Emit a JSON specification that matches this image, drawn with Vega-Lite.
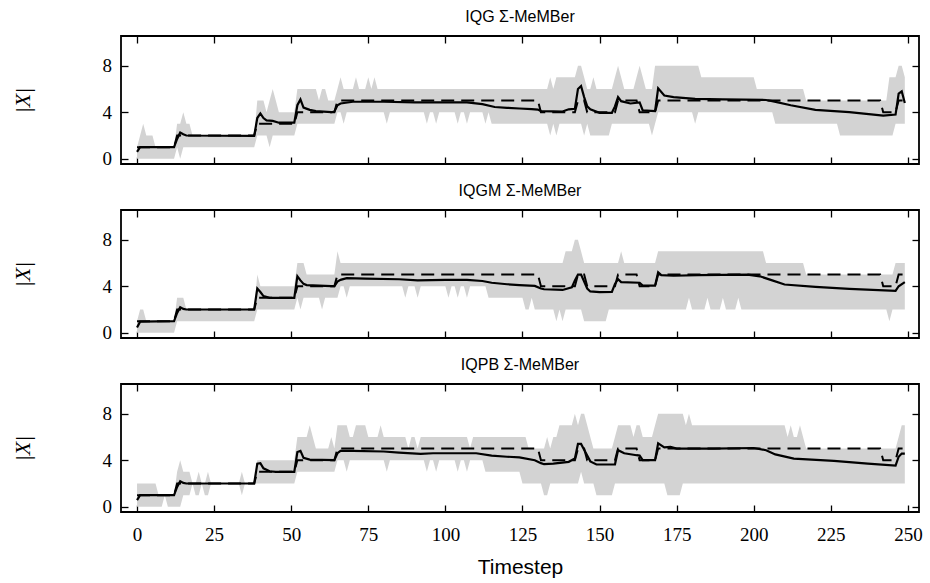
{
  "$schema": "https://vega.github.io/schema/vega-lite/v6.json",
  "padding": {"left": 10, "top": 8, "right": 5, "bottom": 5},
  "background": "white",
  "spacing": 12,
  "config": {
    "view": {"stroke": "black", "strokeWidth": 1.8},
    "axis": {"tickSize": -7, "tickColor": "black", "tickWidth": 1.3, "domain": false, "grid": false, "labelFont": "Liberation Serif", "labelFontSize": 19, "labelColor": "black", "labelFlush": false, "zindex": 1},
    "title": {"font": "Liberation Sans", "fontSize": 16, "fontWeight": "normal", "color": "black", "offset": 10, "anchor": "middle"}
  },
  "datasets": {
    "truth": [
      {"t":0,"n":1},{"t":12,"n":1},{"t":13,"n":2},{"t":38,"n":2},{"t":39,"n":3},{"t":51,"n":3},{"t":52,"n":4},{"t":64,"n":4},{"t":65,"n":5},{"t":130,"n":5},{"t":131,"n":4},{"t":142,"n":4},{"t":143,"n":5},{"t":145,"n":5},{"t":146,"n":4},{"t":155,"n":4},{"t":156,"n":5},{"t":162,"n":5},{"t":163,"n":4},{"t":168,"n":4},{"t":169,"n":5},{"t":241,"n":5},{"t":242,"n":4},{"t":246,"n":4},{"t":247,"n":5},{"t":249,"n":5}
    ],
    "est": [
      {"p":1,"t":0,"n":0.6},{"p":1,"t":1,"n":1.0},{"p":1,"t":12,"n":1.0},{"p":1,"t":13,"n":1.7},{"p":1,"t":14,"n":2.25},{"p":1,"t":15,"n":2.1},{"p":1,"t":16,"n":2.0},{"p":1,"t":38,"n":1.97},{"p":1,"t":39,"n":3.5},{"p":1,"t":40,"n":3.9},{"p":1,"t":41,"n":3.5},{"p":1,"t":42,"n":3.3},{"p":1,"t":44,"n":3.25},{"p":1,"t":46,"n":3.1},{"p":1,"t":51,"n":3.1},{"p":1,"t":52,"n":4.6},{"p":1,"t":53,"n":5.1},{"p":1,"t":54,"n":4.4},{"p":1,"t":56,"n":4.2},{"p":1,"t":58,"n":4.1},{"p":1,"t":63,"n":4.0},{"p":1,"t":64,"n":4.05},{"p":1,"t":65,"n":4.6},{"p":1,"t":66,"n":4.75},{"p":1,"t":70,"n":4.9},{"p":1,"t":80,"n":4.9},{"p":1,"t":90,"n":4.85},{"p":1,"t":100,"n":4.85},{"p":1,"t":107,"n":4.85},{"p":1,"t":112,"n":4.7},{"p":1,"t":116,"n":4.45},{"p":1,"t":120,"n":4.38},{"p":1,"t":124,"n":4.32},{"p":1,"t":128,"n":4.26},{"p":1,"t":130,"n":4.23},{"p":1,"t":131,"n":4.1},{"p":1,"t":135,"n":4.08},{"p":1,"t":138,"n":4.06},{"p":1,"t":140,"n":4.25},{"p":1,"t":142,"n":4.3},{"p":1,"t":143,"n":6.0},{"p":1,"t":144,"n":6.25},{"p":1,"t":145,"n":5.3},{"p":1,"t":146,"n":4.5},{"p":1,"t":147,"n":4.25},{"p":1,"t":150,"n":3.95},{"p":1,"t":154,"n":3.95},{"p":1,"t":155,"n":4.5},{"p":1,"t":156,"n":5.3},{"p":1,"t":157,"n":4.95},{"p":1,"t":160,"n":4.75},{"p":1,"t":163,"n":4.85},{"p":1,"t":164,"n":4.15},{"p":1,"t":168,"n":4.1},{"p":1,"t":169,"n":6.05},{"p":1,"t":171,"n":5.43},{"p":1,"t":174,"n":5.3},{"p":1,"t":181,"n":5.14},{"p":1,"t":190,"n":5.1},{"p":1,"t":204,"n":5.05},{"p":1,"t":206,"n":4.95},{"p":1,"t":212,"n":4.6},{"p":1,"t":220,"n":4.2},{"p":1,"t":231,"n":4.0},{"p":1,"t":242,"n":3.7},{"p":1,"t":246,"n":3.8},{"p":1,"t":247,"n":5.6},{"p":1,"t":248,"n":5.8},{"p":1,"t":249,"n":4.8},
      {"p":2,"t":0,"n":0.45},{"p":2,"t":1,"n":0.95},{"p":2,"t":12,"n":1.0},{"p":2,"t":13,"n":1.7},{"p":2,"t":14,"n":2.2},{"p":2,"t":15,"n":2.05},{"p":2,"t":16,"n":2.0},{"p":2,"t":38,"n":2.0},{"p":2,"t":39,"n":3.8},{"p":2,"t":40,"n":3.5},{"p":2,"t":41,"n":3.15},{"p":2,"t":43,"n":3.0},{"p":2,"t":51,"n":3.0},{"p":2,"t":52,"n":4.85},{"p":2,"t":53,"n":4.5},{"p":2,"t":54,"n":4.2},{"p":2,"t":55,"n":4.1},{"p":2,"t":63,"n":4.0},{"p":2,"t":64,"n":4.0},{"p":2,"t":65,"n":4.4},{"p":2,"t":66,"n":4.55},{"p":2,"t":68,"n":4.7},{"p":2,"t":74,"n":4.65},{"p":2,"t":85,"n":4.6},{"p":2,"t":91,"n":4.5},{"p":2,"t":100,"n":4.55},{"p":2,"t":107,"n":4.55},{"p":2,"t":112,"n":4.45},{"p":2,"t":115,"n":4.3},{"p":2,"t":120,"n":4.17},{"p":2,"t":124,"n":4.1},{"p":2,"t":129,"n":4.03},{"p":2,"t":131,"n":3.8},{"p":2,"t":132,"n":3.74},{"p":2,"t":138,"n":3.68},{"p":2,"t":141,"n":3.9},{"p":2,"t":142,"n":4.5},{"p":2,"t":143,"n":5.0},{"p":2,"t":144,"n":5.0},{"p":2,"t":145,"n":4.4},{"p":2,"t":146,"n":3.8},{"p":2,"t":147,"n":3.55},{"p":2,"t":150,"n":3.5},{"p":2,"t":154,"n":3.52},{"p":2,"t":155,"n":4.2},{"p":2,"t":156,"n":4.6},{"p":2,"t":157,"n":4.35},{"p":2,"t":163,"n":4.3},{"p":2,"t":164,"n":4.05},{"p":2,"t":168,"n":4.05},{"p":2,"t":169,"n":5.2},{"p":2,"t":170,"n":4.95},{"p":2,"t":174,"n":4.9},{"p":2,"t":182,"n":4.95},{"p":2,"t":198,"n":5.0},{"p":2,"t":202,"n":4.85},{"p":2,"t":206,"n":4.5},{"p":2,"t":210,"n":4.15},{"p":2,"t":220,"n":3.95},{"p":2,"t":231,"n":3.77},{"p":2,"t":246,"n":3.6},{"p":2,"t":247,"n":4.0},{"p":2,"t":249,"n":4.35},
      {"p":3,"t":0,"n":0.57},{"p":3,"t":1,"n":1.0},{"p":3,"t":12,"n":1.0},{"p":3,"t":13,"n":1.7},{"p":3,"t":14,"n":2.2},{"p":3,"t":15,"n":2.05},{"p":3,"t":16,"n":2.0},{"p":3,"t":38,"n":2.0},{"p":3,"t":39,"n":3.7},{"p":3,"t":40,"n":3.75},{"p":3,"t":41,"n":3.3},{"p":3,"t":43,"n":3.05},{"p":3,"t":45,"n":3.0},{"p":3,"t":51,"n":3.0},{"p":3,"t":52,"n":4.7},{"p":3,"t":53,"n":4.8},{"p":3,"t":54,"n":4.2},{"p":3,"t":56,"n":4.05},{"p":3,"t":64,"n":4.0},{"p":3,"t":65,"n":4.6},{"p":3,"t":66,"n":4.8},{"p":3,"t":70,"n":4.8},{"p":3,"t":80,"n":4.75},{"p":3,"t":85,"n":4.65},{"p":3,"t":92,"n":4.55},{"p":3,"t":96,"n":4.6},{"p":3,"t":110,"n":4.6},{"p":3,"t":115,"n":4.4},{"p":3,"t":120,"n":4.3},{"p":3,"t":124,"n":4.25},{"p":3,"t":129,"n":4.0},{"p":3,"t":131,"n":3.75},{"p":3,"t":132,"n":3.66},{"p":3,"t":135,"n":3.7},{"p":3,"t":140,"n":3.86},{"p":3,"t":142,"n":4.14},{"p":3,"t":143,"n":5.4},{"p":3,"t":144,"n":5.4},{"p":3,"t":145,"n":4.9},{"p":3,"t":146,"n":4.4},{"p":3,"t":147,"n":3.9},{"p":3,"t":149,"n":3.63},{"p":3,"t":155,"n":3.63},{"p":3,"t":156,"n":4.86},{"p":3,"t":158,"n":4.6},{"p":3,"t":162,"n":4.43},{"p":3,"t":163,"n":4.4},{"p":3,"t":164,"n":4.0},{"p":3,"t":168,"n":4.0},{"p":3,"t":169,"n":5.45},{"p":3,"t":171,"n":5.1},{"p":3,"t":173,"n":5.14},{"p":3,"t":175,"n":5.0},{"p":3,"t":187,"n":5.0},{"p":3,"t":200,"n":5.05},{"p":3,"t":204,"n":4.86},{"p":3,"t":207,"n":4.5},{"p":3,"t":213,"n":4.14},{"p":3,"t":226,"n":3.94},{"p":3,"t":237,"n":3.7},{"p":3,"t":246,"n":3.54},{"p":3,"t":247,"n":4.3},{"p":3,"t":248,"n":4.57},{"p":3,"t":249,"n":4.57}
    ],
    "band": [
      {"p":1,"t":0,"hi":1,"lo":0},{"p":1,"t":1,"hi":2,"lo":0},{"p":1,"t":2,"hi":3,"lo":0},{"p":1,"t":3,"hi":2,"lo":0},{"p":1,"t":5,"hi":2,"lo":0},{"p":1,"t":6,"hi":1,"lo":0},{"p":1,"t":12,"hi":1,"lo":0},{"p":1,"t":13,"hi":3,"lo":1},{"p":1,"t":14,"hi":3,"lo":0},{"p":1,"t":15,"hi":4,"lo":1},{"p":1,"t":16,"hi":3,"lo":1},{"p":1,"t":17,"hi":3,"lo":1},{"p":1,"t":18,"hi":2,"lo":1},{"p":1,"t":38,"hi":2,"lo":1},{"p":1,"t":39,"hi":5,"lo":2},{"p":1,"t":41,"hi":5,"lo":2},{"p":1,"t":42,"hi":4,"lo":2},{"p":1,"t":43,"hi":5,"lo":1},{"p":1,"t":44,"hi":6,"lo":2},{"p":1,"t":45,"hi":5,"lo":2},{"p":1,"t":46,"hi":4,"lo":2},{"p":1,"t":51,"hi":4,"lo":2},{"p":1,"t":52,"hi":6,"lo":3},{"p":1,"t":58,"hi":6,"lo":3},{"p":1,"t":59,"hi":5,"lo":3},{"p":1,"t":60,"hi":6,"lo":3},{"p":1,"t":61,"hi":6,"lo":3},{"p":1,"t":62,"hi":5,"lo":3},{"p":1,"t":64,"hi":5,"lo":3},{"p":1,"t":65,"hi":6,"lo":4},{"p":1,"t":66,"hi":7,"lo":4},{"p":1,"t":67,"hi":6,"lo":3},{"p":1,"t":68,"hi":6,"lo":4},{"p":1,"t":70,"hi":6,"lo":4},{"p":1,"t":71,"hi":7,"lo":4},{"p":1,"t":72,"hi":6,"lo":4},{"p":1,"t":74,"hi":6,"lo":4},{"p":1,"t":75,"hi":7,"lo":4},{"p":1,"t":76,"hi":6,"lo":4},{"p":1,"t":77,"hi":7,"lo":4},{"p":1,"t":78,"hi":6,"lo":4},{"p":1,"t":80,"hi":6,"lo":4},{"p":1,"t":81,"hi":6,"lo":3},{"p":1,"t":82,"hi":6,"lo":4},{"p":1,"t":93,"hi":6,"lo":4},{"p":1,"t":94,"hi":6,"lo":3},{"p":1,"t":95,"hi":6,"lo":4},{"p":1,"t":96,"hi":6,"lo":4},{"p":1,"t":97,"hi":6,"lo":3},{"p":1,"t":98,"hi":6,"lo":4},{"p":1,"t":103,"hi":6,"lo":4},{"p":1,"t":104,"hi":6,"lo":3},{"p":1,"t":105,"hi":6,"lo":4},{"p":1,"t":106,"hi":6,"lo":4},{"p":1,"t":107,"hi":6,"lo":3},{"p":1,"t":108,"hi":6,"lo":4},{"p":1,"t":112,"hi":6,"lo":4},{"p":1,"t":113,"hi":6,"lo":3},{"p":1,"t":114,"hi":6,"lo":4},{"p":1,"t":115,"hi":6,"lo":3},{"p":1,"t":133,"hi":6,"lo":3},{"p":1,"t":134,"hi":7,"lo":2},{"p":1,"t":135,"hi":6,"lo":3},{"p":1,"t":136,"hi":7,"lo":2},{"p":1,"t":137,"hi":7,"lo":3},{"p":1,"t":142,"hi":7,"lo":3},{"p":1,"t":143,"hi":8,"lo":3},{"p":1,"t":144,"hi":8,"lo":3},{"p":1,"t":145,"hi":7,"lo":2},{"p":1,"t":146,"hi":6,"lo":3},{"p":1,"t":147,"hi":6,"lo":2},{"p":1,"t":148,"hi":7,"lo":2},{"p":1,"t":149,"hi":6,"lo":2},{"p":1,"t":153,"hi":6,"lo":2},{"p":1,"t":154,"hi":6,"lo":3},{"p":1,"t":155,"hi":7,"lo":3},{"p":1,"t":156,"hi":8,"lo":3},{"p":1,"t":157,"hi":7,"lo":3},{"p":1,"t":158,"hi":6,"lo":3},{"p":1,"t":161,"hi":6,"lo":3},{"p":1,"t":162,"hi":7,"lo":3},{"p":1,"t":163,"hi":8,"lo":3},{"p":1,"t":164,"hi":7,"lo":3},{"p":1,"t":165,"hi":6,"lo":3},{"p":1,"t":166,"hi":6,"lo":3},{"p":1,"t":167,"hi":6,"lo":2},{"p":1,"t":168,"hi":8,"lo":3},{"p":1,"t":169,"hi":8,"lo":4},{"p":1,"t":180,"hi":8,"lo":4},{"p":1,"t":181,"hi":8,"lo":3},{"p":1,"t":182,"hi":8,"lo":4},{"p":1,"t":183,"hi":7,"lo":4},{"p":1,"t":200,"hi":7,"lo":4},{"p":1,"t":201,"hi":6,"lo":4},{"p":1,"t":206,"hi":6,"lo":4},{"p":1,"t":207,"hi":6,"lo":3},{"p":1,"t":216,"hi":6,"lo":3},{"p":1,"t":217,"hi":5,"lo":3},{"p":1,"t":227,"hi":5,"lo":3},{"p":1,"t":228,"hi":5,"lo":2},{"p":1,"t":243,"hi":5,"lo":2},{"p":1,"t":244,"hi":7,"lo":2},{"p":1,"t":245,"hi":7,"lo":2},{"p":1,"t":246,"hi":7,"lo":3},{"p":1,"t":247,"hi":8,"lo":3},{"p":1,"t":248,"hi":8,"lo":3},{"p":1,"t":249,"hi":7,"lo":3},
      {"p":2,"t":0,"hi":1,"lo":0},{"p":2,"t":1,"hi":2,"lo":0},{"p":2,"t":2,"hi":2,"lo":0},{"p":2,"t":3,"hi":1,"lo":0},{"p":2,"t":12,"hi":1,"lo":0},{"p":2,"t":13,"hi":3,"lo":1},{"p":2,"t":15,"hi":3,"lo":1},{"p":2,"t":16,"hi":2,"lo":1},{"p":2,"t":38,"hi":2,"lo":1},{"p":2,"t":39,"hi":5,"lo":2},{"p":2,"t":40,"hi":4,"lo":2},{"p":2,"t":51,"hi":4,"lo":2},{"p":2,"t":52,"hi":6,"lo":3},{"p":2,"t":53,"hi":6,"lo":2},{"p":2,"t":54,"hi":6,"lo":3},{"p":2,"t":55,"hi":5,"lo":3},{"p":2,"t":59,"hi":5,"lo":3},{"p":2,"t":60,"hi":5,"lo":2},{"p":2,"t":61,"hi":5,"lo":3},{"p":2,"t":64,"hi":5,"lo":3},{"p":2,"t":65,"hi":7,"lo":3},{"p":2,"t":66,"hi":6,"lo":4},{"p":2,"t":67,"hi":6,"lo":4},{"p":2,"t":68,"hi":6,"lo":3},{"p":2,"t":69,"hi":6,"lo":4},{"p":2,"t":86,"hi":6,"lo":4},{"p":2,"t":87,"hi":6,"lo":3},{"p":2,"t":88,"hi":6,"lo":4},{"p":2,"t":90,"hi":6,"lo":4},{"p":2,"t":91,"hi":6,"lo":3},{"p":2,"t":92,"hi":6,"lo":4},{"p":2,"t":100,"hi":6,"lo":4},{"p":2,"t":101,"hi":6,"lo":3},{"p":2,"t":102,"hi":6,"lo":4},{"p":2,"t":103,"hi":6,"lo":4},{"p":2,"t":104,"hi":6,"lo":3},{"p":2,"t":105,"hi":6,"lo":4},{"p":2,"t":106,"hi":6,"lo":4},{"p":2,"t":107,"hi":6,"lo":3},{"p":2,"t":108,"hi":6,"lo":4},{"p":2,"t":113,"hi":6,"lo":4},{"p":2,"t":114,"hi":6,"lo":3},{"p":2,"t":125,"hi":6,"lo":3},{"p":2,"t":126,"hi":6,"lo":2},{"p":2,"t":127,"hi":6,"lo":2},{"p":2,"t":128,"hi":6,"lo":3},{"p":2,"t":129,"hi":6,"lo":2},{"p":2,"t":135,"hi":6,"lo":2},{"p":2,"t":136,"hi":6,"lo":1},{"p":2,"t":137,"hi":6,"lo":2},{"p":2,"t":138,"hi":6,"lo":1},{"p":2,"t":139,"hi":7,"lo":2},{"p":2,"t":141,"hi":7,"lo":2},{"p":2,"t":142,"hi":8,"lo":2},{"p":2,"t":143,"hi":8,"lo":2},{"p":2,"t":144,"hi":7,"lo":2},{"p":2,"t":145,"hi":6,"lo":1},{"p":2,"t":152,"hi":6,"lo":1},{"p":2,"t":153,"hi":6,"lo":2},{"p":2,"t":156,"hi":6,"lo":2},{"p":2,"t":157,"hi":7,"lo":2},{"p":2,"t":158,"hi":6,"lo":2},{"p":2,"t":168,"hi":6,"lo":2},{"p":2,"t":169,"hi":7,"lo":2},{"p":2,"t":178,"hi":7,"lo":2},{"p":2,"t":179,"hi":7,"lo":3},{"p":2,"t":180,"hi":7,"lo":2},{"p":2,"t":184,"hi":7,"lo":2},{"p":2,"t":185,"hi":7,"lo":3},{"p":2,"t":186,"hi":7,"lo":2},{"p":2,"t":189,"hi":7,"lo":2},{"p":2,"t":190,"hi":7,"lo":3},{"p":2,"t":191,"hi":7,"lo":2},{"p":2,"t":194,"hi":7,"lo":2},{"p":2,"t":195,"hi":7,"lo":3},{"p":2,"t":196,"hi":7,"lo":2},{"p":2,"t":203,"hi":7,"lo":2},{"p":2,"t":204,"hi":6,"lo":2},{"p":2,"t":216,"hi":6,"lo":2},{"p":2,"t":217,"hi":5,"lo":2},{"p":2,"t":243,"hi":5,"lo":2},{"p":2,"t":244,"hi":5,"lo":1},{"p":2,"t":245,"hi":5,"lo":2},{"p":2,"t":246,"hi":6,"lo":2},{"p":2,"t":249,"hi":6,"lo":2},
      {"p":3,"t":0,"hi":2,"lo":0},{"p":3,"t":6,"hi":2,"lo":0},{"p":3,"t":7,"hi":1,"lo":0},{"p":3,"t":8,"hi":1,"lo":0},{"p":3,"t":9,"hi":1,"lo":1},{"p":3,"t":10,"hi":1,"lo":0},{"p":3,"t":12,"hi":1,"lo":0},{"p":3,"t":13,"hi":3,"lo":0},{"p":3,"t":14,"hi":4,"lo":0},{"p":3,"t":15,"hi":3,"lo":1},{"p":3,"t":17,"hi":3,"lo":1},{"p":3,"t":18,"hi":2,"lo":2},{"p":3,"t":19,"hi":2,"lo":1},{"p":3,"t":20,"hi":3,"lo":1},{"p":3,"t":21,"hi":2,"lo":2},{"p":3,"t":22,"hi":2,"lo":1},{"p":3,"t":23,"hi":3,"lo":1},{"p":3,"t":24,"hi":2,"lo":2},{"p":3,"t":33,"hi":2,"lo":2},{"p":3,"t":34,"hi":3,"lo":1},{"p":3,"t":35,"hi":2,"lo":2},{"p":3,"t":38,"hi":2,"lo":2},{"p":3,"t":39,"hi":4,"lo":2},{"p":3,"t":51,"hi":4,"lo":2},{"p":3,"t":52,"hi":6,"lo":3},{"p":3,"t":55,"hi":6,"lo":3},{"p":3,"t":56,"hi":7,"lo":3},{"p":3,"t":57,"hi":6,"lo":3},{"p":3,"t":58,"hi":5,"lo":3},{"p":3,"t":62,"hi":5,"lo":3},{"p":3,"t":63,"hi":6,"lo":3},{"p":3,"t":64,"hi":5,"lo":3},{"p":3,"t":65,"hi":7,"lo":4},{"p":3,"t":67,"hi":7,"lo":4},{"p":3,"t":68,"hi":7,"lo":3},{"p":3,"t":69,"hi":6,"lo":4},{"p":3,"t":70,"hi":6,"lo":4},{"p":3,"t":71,"hi":7,"lo":4},{"p":3,"t":74,"hi":7,"lo":4},{"p":3,"t":75,"hi":6,"lo":4},{"p":3,"t":78,"hi":6,"lo":4},{"p":3,"t":79,"hi":7,"lo":4},{"p":3,"t":80,"hi":6,"lo":4},{"p":3,"t":81,"hi":6,"lo":3},{"p":3,"t":82,"hi":6,"lo":4},{"p":3,"t":87,"hi":6,"lo":4},{"p":3,"t":88,"hi":5,"lo":4},{"p":3,"t":89,"hi":6,"lo":4},{"p":3,"t":90,"hi":6,"lo":4},{"p":3,"t":91,"hi":5,"lo":4},{"p":3,"t":92,"hi":6,"lo":4},{"p":3,"t":93,"hi":6,"lo":4},{"p":3,"t":94,"hi":6,"lo":3},{"p":3,"t":95,"hi":6,"lo":4},{"p":3,"t":96,"hi":6,"lo":4},{"p":3,"t":97,"hi":6,"lo":3},{"p":3,"t":98,"hi":6,"lo":4},{"p":3,"t":103,"hi":6,"lo":4},{"p":3,"t":104,"hi":6,"lo":3},{"p":3,"t":105,"hi":6,"lo":4},{"p":3,"t":106,"hi":6,"lo":4},{"p":3,"t":107,"hi":6,"lo":3},{"p":3,"t":108,"hi":5,"lo":4},{"p":3,"t":109,"hi":6,"lo":4},{"p":3,"t":112,"hi":6,"lo":4},{"p":3,"t":113,"hi":6,"lo":3},{"p":3,"t":124,"hi":6,"lo":3},{"p":3,"t":125,"hi":6,"lo":2},{"p":3,"t":126,"hi":6,"lo":2},{"p":3,"t":127,"hi":5,"lo":2},{"p":3,"t":131,"hi":5,"lo":2},{"p":3,"t":132,"hi":5,"lo":1},{"p":3,"t":133,"hi":6,"lo":1},{"p":3,"t":134,"hi":5,"lo":2},{"p":3,"t":135,"hi":6,"lo":2},{"p":3,"t":136,"hi":6,"lo":2},{"p":3,"t":137,"hi":7,"lo":2},{"p":3,"t":141,"hi":7,"lo":2},{"p":3,"t":142,"hi":8,"lo":2},{"p":3,"t":143,"hi":7,"lo":2},{"p":3,"t":144,"hi":8,"lo":3},{"p":3,"t":145,"hi":8,"lo":2},{"p":3,"t":146,"hi":7,"lo":2},{"p":3,"t":147,"hi":6,"lo":2},{"p":3,"t":148,"hi":5,"lo":2},{"p":3,"t":149,"hi":5,"lo":1},{"p":3,"t":154,"hi":5,"lo":1},{"p":3,"t":155,"hi":6,"lo":2},{"p":3,"t":156,"hi":7,"lo":2},{"p":3,"t":160,"hi":7,"lo":2},{"p":3,"t":161,"hi":6,"lo":2},{"p":3,"t":162,"hi":7,"lo":2},{"p":3,"t":163,"hi":7,"lo":2},{"p":3,"t":164,"hi":6,"lo":2},{"p":3,"t":167,"hi":6,"lo":2},{"p":3,"t":168,"hi":7,"lo":2},{"p":3,"t":169,"hi":8,"lo":2},{"p":3,"t":171,"hi":8,"lo":2},{"p":3,"t":172,"hi":8,"lo":1},{"p":3,"t":176,"hi":8,"lo":1},{"p":3,"t":177,"hi":8,"lo":2},{"p":3,"t":178,"hi":7,"lo":2},{"p":3,"t":179,"hi":8,"lo":2},{"p":3,"t":180,"hi":7,"lo":2},{"p":3,"t":210,"hi":7,"lo":2},{"p":3,"t":211,"hi":6,"lo":2},{"p":3,"t":212,"hi":7,"lo":2},{"p":3,"t":213,"hi":6,"lo":2},{"p":3,"t":214,"hi":6,"lo":2},{"p":3,"t":215,"hi":7,"lo":2},{"p":3,"t":216,"hi":6,"lo":2},{"p":3,"t":217,"hi":5,"lo":2},{"p":3,"t":246,"hi":5,"lo":2},{"p":3,"t":247,"hi":6,"lo":2},{"p":3,"t":248,"hi":7,"lo":2},{"p":3,"t":249,"hi":7,"lo":2}
    ]
  },
  "vconcat": [
    {
      "title": "IQG Σ-MeMBer",
      "width": 798, "height": 128,
      "layer": [
        {"data": {"name": "band"}, "transform": [{"filter": "datum.p == 1"}],
         "mark": {"type": "area", "color": "#d3d3d3", "opacity": 1},
         "encoding": {
           "x": {"field": "t", "type": "quantitative", "scale": {"domain": [-5.2, 253.6], "nice": false, "zero": false}, "axis": {"orient": "bottom", "values": [0,25,50,75,100,125,150,175,200,225,250], "labels": false, "title": null}},
           "y": {"field": "hi", "type": "quantitative", "scale": {"domain": [-0.45, 10.55], "nice": false, "zero": false}, "axis": {"orient": "left", "values": [0,4,8], "labelPadding": 16.5, "title": "|X|", "titleFont": "Liberation Serif", "titleFontStyle": "italic", "titleFontWeight": "normal", "titleFontSize": 22, "titleColor": "black", "titlePadding": 68}},
           "y2": {"field": "lo"}
         }},
        {"data": {"name": "truth"},
         "mark": {"type": "line", "color": "black", "strokeWidth": 2, "strokeDash": [13, 7]},
         "encoding": {
           "x": {"field": "t", "type": "quantitative", "scale": {"domain": [-5.2, 253.6], "nice": false, "zero": false}, "axis": {"orient": "top", "values": [0,25,50,75,100,125,150,175,200,225,250], "labels": false, "title": null}},
           "y": {"field": "n", "type": "quantitative", "scale": {"domain": [-0.45, 10.55], "nice": false, "zero": false}, "axis": {"orient": "right", "values": [0,4,8], "labels": false, "title": null}}
         }},
        {"data": {"name": "est"}, "transform": [{"filter": "datum.p == 1"}],
         "mark": {"type": "line", "color": "black", "strokeWidth": 2.2},
         "encoding": {
           "x": {"field": "t", "type": "quantitative", "scale": {"domain": [-5.2, 253.6], "nice": false, "zero": false}, "axis": null},
           "y": {"field": "n", "type": "quantitative", "scale": {"domain": [-0.45, 10.55], "nice": false, "zero": false}, "axis": null}
         }}
      ],
      "resolve": {"scale": {"x": "independent", "y": "independent"}, "axis": {"x": "independent", "y": "independent"}}
    },
    {
      "title": "IQGM Σ-MeMBer",
      "width": 798, "height": 128,
      "layer": [
        {"data": {"name": "band"}, "transform": [{"filter": "datum.p == 2"}],
         "mark": {"type": "area", "color": "#d3d3d3", "opacity": 1},
         "encoding": {
           "x": {"field": "t", "type": "quantitative", "scale": {"domain": [-5.2, 253.6], "nice": false, "zero": false}, "axis": {"orient": "bottom", "values": [0,25,50,75,100,125,150,175,200,225,250], "labels": false, "title": null}},
           "y": {"field": "hi", "type": "quantitative", "scale": {"domain": [-0.45, 10.55], "nice": false, "zero": false}, "axis": {"orient": "left", "values": [0,4,8], "labelPadding": 16.5, "title": "|X|", "titleFont": "Liberation Serif", "titleFontStyle": "italic", "titleFontWeight": "normal", "titleFontSize": 22, "titleColor": "black", "titlePadding": 68}},
           "y2": {"field": "lo"}
         }},
        {"data": {"name": "truth"},
         "mark": {"type": "line", "color": "black", "strokeWidth": 2, "strokeDash": [13, 7]},
         "encoding": {
           "x": {"field": "t", "type": "quantitative", "scale": {"domain": [-5.2, 253.6], "nice": false, "zero": false}, "axis": {"orient": "top", "values": [0,25,50,75,100,125,150,175,200,225,250], "labels": false, "title": null}},
           "y": {"field": "n", "type": "quantitative", "scale": {"domain": [-0.45, 10.55], "nice": false, "zero": false}, "axis": {"orient": "right", "values": [0,4,8], "labels": false, "title": null}}
         }},
        {"data": {"name": "est"}, "transform": [{"filter": "datum.p == 2"}],
         "mark": {"type": "line", "color": "black", "strokeWidth": 2.2},
         "encoding": {
           "x": {"field": "t", "type": "quantitative", "scale": {"domain": [-5.2, 253.6], "nice": false, "zero": false}, "axis": null},
           "y": {"field": "n", "type": "quantitative", "scale": {"domain": [-0.45, 10.55], "nice": false, "zero": false}, "axis": null}
         }}
      ],
      "resolve": {"scale": {"x": "independent", "y": "independent"}, "axis": {"x": "independent", "y": "independent"}}
    },
    {
      "title": "IQPB Σ-MeMBer",
      "width": 798, "height": 128,
      "layer": [
        {"data": {"name": "band"}, "transform": [{"filter": "datum.p == 3"}],
         "mark": {"type": "area", "color": "#d3d3d3", "opacity": 1},
         "encoding": {
           "x": {"field": "t", "type": "quantitative", "scale": {"domain": [-5.2, 253.6], "nice": false, "zero": false}, "axis": {"orient": "bottom", "values": [0,25,50,75,100,125,150,175,200,225,250], "labels": true, "labelPadding": 20, "title": "Timestep", "titleFont": "Liberation Sans", "titleFontSize": 21, "titleFontWeight": "normal", "titleColor": "black", "titlePadding": 12}},
           "y": {"field": "hi", "type": "quantitative", "scale": {"domain": [-0.45, 10.55], "nice": false, "zero": false}, "axis": {"orient": "left", "values": [0,4,8], "labelPadding": 16.5, "title": "|X|", "titleFont": "Liberation Serif", "titleFontStyle": "italic", "titleFontWeight": "normal", "titleFontSize": 22, "titleColor": "black", "titlePadding": 68}},
           "y2": {"field": "lo"}
         }},
        {"data": {"name": "truth"},
         "mark": {"type": "line", "color": "black", "strokeWidth": 2, "strokeDash": [13, 7]},
         "encoding": {
           "x": {"field": "t", "type": "quantitative", "scale": {"domain": [-5.2, 253.6], "nice": false, "zero": false}, "axis": {"orient": "top", "values": [0,25,50,75,100,125,150,175,200,225,250], "labels": false, "title": null}},
           "y": {"field": "n", "type": "quantitative", "scale": {"domain": [-0.45, 10.55], "nice": false, "zero": false}, "axis": {"orient": "right", "values": [0,4,8], "labels": false, "title": null}}
         }},
        {"data": {"name": "est"}, "transform": [{"filter": "datum.p == 3"}],
         "mark": {"type": "line", "color": "black", "strokeWidth": 2.2},
         "encoding": {
           "x": {"field": "t", "type": "quantitative", "scale": {"domain": [-5.2, 253.6], "nice": false, "zero": false}, "axis": null},
           "y": {"field": "n", "type": "quantitative", "scale": {"domain": [-0.45, 10.55], "nice": false, "zero": false}, "axis": null}
         }}
      ],
      "resolve": {"scale": {"x": "independent", "y": "independent"}, "axis": {"x": "independent", "y": "independent"}}
    }
  ]
}
